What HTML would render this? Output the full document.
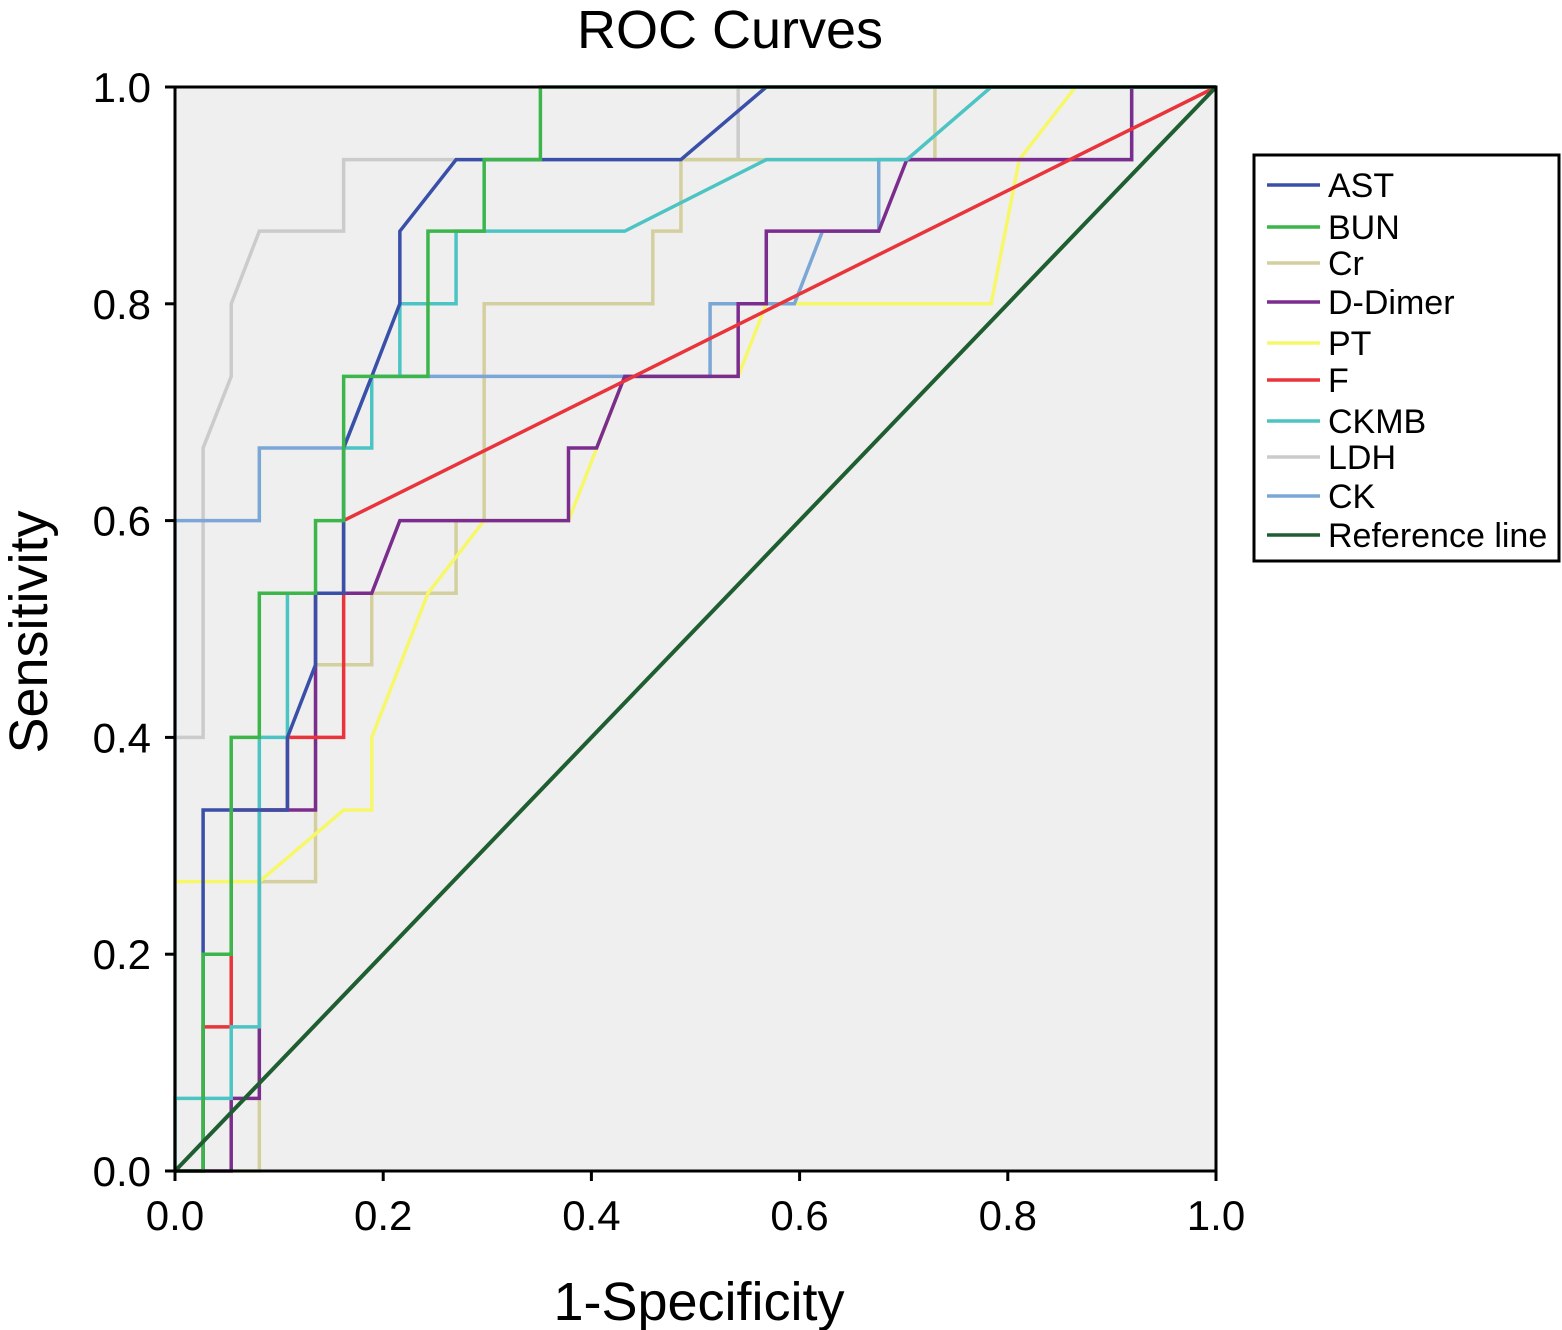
<!DOCTYPE html>
<html><head><meta charset="utf-8"><style>
html,body{margin:0;padding:0;background:#fff;}
svg{display:block;font-family:"Liberation Sans",Arial,sans-serif;}
</style></head><body>
<svg id="chart" width="1562" height="1330" viewBox="0 0 1562 1330">
<text x="730" y="48" font-size="54" text-anchor="middle" fill="#000">ROC Curves</text>
<rect x="175" y="87" width="1041" height="1084" fill="#efefef"/>
<g id="series"></g>
<rect x="175" y="87" width="1041" height="1084" fill="none" stroke="#000" stroke-width="3"/>
<g id="axes"></g>
<text x="699" y="1320" font-size="54" text-anchor="middle">1-Specificity</text>
<text transform="translate(47,632) rotate(-90)" font-size="54" text-anchor="middle">Sensitivity</text>
<g>
<rect x="1254" y="155" width="305" height="406" fill="#fff" stroke="#000" stroke-width="3"/>
<g id="legend"></g>
</g>
</svg>
<script>
const NS="http://www.w3.org/2000/svg";
const seriesNames=["AST","BUN","Cr","D-Dimer","PT","F","CKMB","LDH","CK","Reference line"];
const seriesColors=["#3a4fa8","#3cb54a","#d4cf9e","#7b2d8e","#f7f76a","#e8343a","#4cc4c4","#cbcbcb","#7aa7d6","#1e5e30"];
const xAST=[0,0.027,0.027,0.108,0.108,0.135,0.135,0.162,0.162,0.189,0.216,0.216,0.27,0.486,0.568,1];
const yAST=[0,0,0.333,0.333,0.4,0.467,0.533,0.533,0.667,0.733,0.8,0.867,0.933,0.933,1,1];
const xBUN=[0,0.027,0.027,0.054,0.054,0.081,0.081,0.135,0.135,0.162,0.162,0.243,0.243,0.297,0.297,0.351,0.351,1];
const yBUN=[0,0,0.2,0.2,0.4,0.4,0.533,0.533,0.6,0.6,0.733,0.733,0.867,0.867,0.933,0.933,1,1];
const xCr=[0,0.081,0.081,0.135,0.135,0.189,0.189,0.27,0.27,0.297,0.297,0.459,0.459,0.486,0.486,0.73,0.73,1];
const yCr=[0,0,0.267,0.267,0.467,0.467,0.533,0.533,0.6,0.6,0.8,0.8,0.867,0.867,0.933,0.933,1,1];
const xDD=[0,0.054,0.054,0.081,0.081,0.135,0.135,0.189,0.216,0.378,0.378,0.405,0.432,0.541,0.541,0.568,0.568,0.676,0.703,0.919,0.919,1];
const yDD=[0,0,0.067,0.067,0.333,0.333,0.533,0.533,0.6,0.6,0.667,0.667,0.733,0.733,0.8,0.8,0.867,0.867,0.933,0.933,1,1];
const xPT=[0,0,0.081,0.162,0.189,0.189,0.243,0.297,0.378,0.432,0.541,0.568,0.784,0.811,0.865,1];
const yPT=[0,0.267,0.267,0.333,0.333,0.4,0.533,0.6,0.6,0.733,0.733,0.8,0.8,0.933,1,1];
const xF=[0,0.027,0.027,0.054,0.054,0.108,0.108,0.162,0.162,1];
const yF=[0,0,0.133,0.133,0.333,0.333,0.4,0.4,0.6,1];
const xCKMB=[0,0,0.054,0.054,0.081,0.081,0.108,0.108,0.162,0.162,0.189,0.189,0.216,0.216,0.27,0.27,0.432,0.568,0.703,0.784,1];
const yCKMB=[0,0.067,0.067,0.133,0.133,0.4,0.4,0.533,0.533,0.667,0.667,0.733,0.733,0.8,0.8,0.867,0.867,0.933,0.933,1,1];
const xLDH=[0,0,0.027,0.027,0.054,0.054,0.081,0.162,0.162,0.541,0.541,1];
const yLDH=[0,0.4,0.4,0.667,0.733,0.8,0.867,0.867,0.933,0.933,1,1];
const xCK=[0,0,0.081,0.081,0.162,0.189,0.514,0.514,0.595,0.622,0.676,0.676,0.919,0.919,1];
const yCK=[0,0.6,0.6,0.667,0.667,0.733,0.733,0.8,0.8,0.867,0.867,0.933,0.933,1,1];
const xRef=[0,1];
const yRef=[0,1];
const xTicks=["0.0","0.2","0.4","0.6","0.8","1.0"];
const yTicks=["0.0","0.2","0.4","0.6","0.8","1.0"];
const seriesX=[xAST,xBUN,xCr,xDD,xPT,xF,xCKMB,xLDH,xCK,xRef];
const seriesY=[yAST,yBUN,yCr,yDD,yPT,yF,yCKMB,yLDH,yCK,yRef];

const X0=175,X1=1216,Y0=1171,Y1=87;
function sx(v){return X0+v*(X1-X0);}
function sy(v){return Y0-v*(Y0-Y1);}

const g=document.getElementById('series');
const order=[7,2,4,8,3,5,6,0,1,9];
order.forEach(i=>{
  const p=document.createElementNS(NS,'polyline');
  p.setAttribute('points',seriesX[i].map((x,k)=>sx(x)+','+sy(seriesY[i][k])).join(' '));
  p.setAttribute('fill','none');
  p.setAttribute('stroke',seriesColors[i]);
  p.setAttribute('stroke-width',i===9?'4':'3.5');
  
  
  g.appendChild(p);
});

const ax=document.getElementById('axes');
xTicks.forEach(t=>{
  const v=parseFloat(t);
  const l=document.createElementNS(NS,'line');
  l.setAttribute('x1',sx(v));l.setAttribute('x2',sx(v));
  l.setAttribute('y1',Y0);l.setAttribute('y2',Y0+10);
  l.setAttribute('stroke','#000');l.setAttribute('stroke-width','3');
  
  
  ax.appendChild(l);
  const tx=document.createElementNS(NS,'text');
  tx.setAttribute('x',sx(v));tx.setAttribute('y',Y0+59);
  tx.setAttribute('font-size','42');tx.setAttribute('text-anchor','middle');
  tx.textContent=t;
  
  
  ax.appendChild(tx);
});
yTicks.forEach(t=>{
  const v=parseFloat(t);
  const l=document.createElementNS(NS,'line');
  l.setAttribute('x1',X0-10);l.setAttribute('x2',X0);
  l.setAttribute('y1',sy(v));l.setAttribute('y2',sy(v));
  l.setAttribute('stroke','#000');l.setAttribute('stroke-width','3');
  
  
  ax.appendChild(l);
  const tx=document.createElementNS(NS,'text');
  tx.setAttribute('x',X0-24);tx.setAttribute('y',sy(v)+15);
  tx.setAttribute('font-size','42');tx.setAttribute('text-anchor','end');
  tx.textContent=t;
  
  
  ax.appendChild(tx);
});

const lg=document.getElementById('legend');
const legY=[185,227,263,302,343,380,421,457,496,535];
seriesNames.forEach((n,i)=>{
  const l=document.createElementNS(NS,'line');
  l.setAttribute('x1',1267);l.setAttribute('x2',1320);
  l.setAttribute('y1',legY[i]);l.setAttribute('y2',legY[i]);
  l.setAttribute('stroke',seriesColors[i]);l.setAttribute('stroke-width','3.5');
  
  
  lg.appendChild(l);
  const tx=document.createElementNS(NS,'text');
  tx.setAttribute('x',1328);tx.setAttribute('y',legY[i]+12);
  tx.setAttribute('font-size','34');
  tx.textContent=n;
  
  
  lg.appendChild(tx);
});
</script>
</body></html>
